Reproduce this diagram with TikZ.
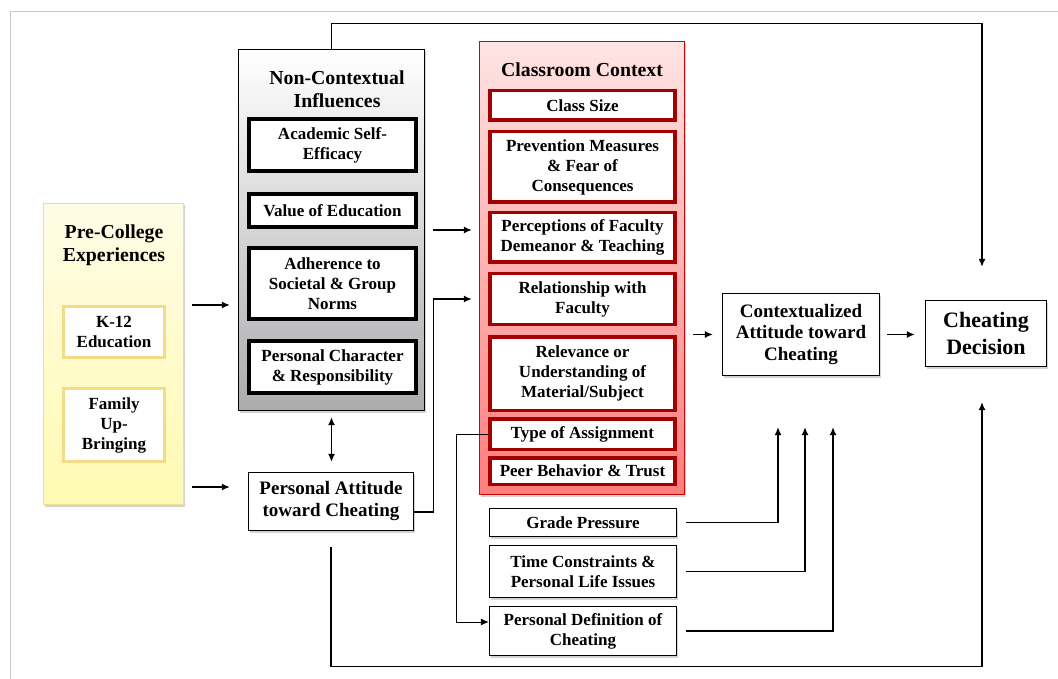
\documentclass[tikz,border=0pt]{standalone}
\usepackage{fontspec}
\setmainfont{Liberation Serif}
\usetikzlibrary{arrows.meta,calc,shadows}
\definecolor{framegray}{RGB}{200,200,200}
\definecolor{preborder}{RGB}{238,222,150}
\definecolor{pretop}{RGB}{255,252,230}
\definecolor{prebot}{RGB}{255,250,178}
\definecolor{kborder}{RGB}{243,220,135}
\definecolor{ncbot}{RGB}{172,172,175}
\definecolor{ccborder}{RGB}{195,10,10}
\definecolor{cctop}{RGB}{255,228,228}
\definecolor{ccbot}{RGB}{255,125,125}
\definecolor{innerred}{RGB}{165,0,0}
\newcommand\fsmall{\fontsize{17}{20}\selectfont\bfseries}
\newcommand\fbig{\fontsize{19.8}{23}\selectfont\bfseries}
\newcommand\fhuge{\fontsize{22}{27}\selectfont\bfseries}
\tikzset{
  shad/.style={drop shadow={opacity=0.35, shadow xshift=1.5pt, shadow yshift=-2pt}},
  conn/.style={line width=1.3pt, -{Latex[length=8pt,width=7pt]}},
  dconn/.style={line width=1.3pt, {Latex[length=8pt,width=7pt]}-{Latex[length=8pt,width=7pt]}},
  plainbox/.style={draw, line width=1.3pt, fill=white, inner sep=0pt, align=center, font=\fsmall, shad},
  ncinner/.style={draw, line width=3.5pt, fill=white, inner sep=0pt, align=center, font=\fsmall, shad},
  ccinner/.style={draw=innerred, line width=3.5pt, fill=white, inner sep=0pt, align=center, font=\fsmall},
  preinner/.style={draw=kborder, line width=3pt, fill=white, inner sep=0pt, align=center, font=\fsmall},
  titletext/.style={align=center, font=\fbig, inner sep=0pt}
}
\begin{document}
\begin{tikzpicture}[x=1pt,y=-1pt]
\useasboundingbox (0,0) rectangle (1058,679);
% frame
\draw[framegray, line width=1pt] (10,679) -- (10,12) -- (1058,12);

% Pre-College
\node[draw=preborder, line width=1.2pt, top color=pretop, bottom color=prebot, minimum width=140pt, minimum height=301pt, inner sep=0pt, shad] (pre) at (113.5,354) {};
\node[titletext] (pret) at (114,245) {Pre-College\\Experiences};
\node[preinner, minimum width=101pt, minimum height=51pt] (k12) at (114,332) {K-12\\Education};
\node[preinner, minimum width=101pt, minimum height=73pt] (fam) at (114,425) {Family\\Up-\\Bringing};

% Non-Contextual
\node[draw, line width=1.3pt, top color=white, bottom color=ncbot, minimum width=186pt, minimum height=361pt, inner sep=0pt, shad] (nc) at (331.5,230) {};
\node[titletext] (nct) at (337,89) {Non-Contextual\\Influences};
\node[ncinner, minimum width=167pt, minimum height=52pt] (ase) at (332.5,145) {Academic Self-\\Efficacy};
\node[ncinner, minimum width=167pt, minimum height=33pt] (voe) at (332.5,210.5) {Value of Education};
\node[ncinner, minimum width=167pt, minimum height=71pt] (adh) at (332.5,283.5) {Adherence to\\Societal \& Group\\Norms};
\node[ncinner, minimum width=167pt, minimum height=52pt] (pcr) at (332.5,367) {Personal Character\\\& Responsibility};

% Personal attitude
\node[draw, line width=1.3pt, fill=white, minimum width=165pt, minimum height=58pt, inner sep=0pt, align=center, font=\fontsize{19}{22}\selectfont\bfseries, shad] (pa) at (331,501.5) {Personal Attitude\\toward Cheating};

% Classroom Context
\node[draw=ccborder, line width=1.3pt, top color=cctop, bottom color=ccbot, minimum width=205pt, minimum height=453pt, inner sep=0pt, shad] (cc) at (582,268) {};
\node[titletext] (cct) at (582,70) {Classroom Context};
\node[ccinner, minimum width=185pt, minimum height=29.5pt] (cs) at (582.5,105.5) {Class Size};
\node[ccinner, minimum width=185pt, minimum height=70.5pt] (pm) at (582.5,167) {Prevention Measures\\\& Fear of\\Consequences};
\node[ccinner, minimum width=185pt, minimum height=49.5pt] (pf) at (582.5,237.5) {Perceptions of Faculty\\Demeanor \& Teaching};
\node[ccinner, minimum width=185pt, minimum height=50.5pt] (rf) at (582.5,299) {Relationship with\\Faculty};
\node[ccinner, minimum width=185pt, minimum height=73.5pt] (rel) at (582.5,373.5) {Relevance or\\Understanding of\\Material/Subject};
\node[ccinner, minimum width=185pt, minimum height=30.5pt] (toa) at (582.5,434) {Type of Assignment};
\node[ccinner, minimum width=185pt, minimum height=26.5pt] (peer) at (582.5,471) {Peer Behavior \& Trust};

% Other personal factors
\node[plainbox, minimum width=187pt, minimum height=28pt] (gp) at (583,522.5) {Grade Pressure};
\node[plainbox, minimum width=187pt, minimum height=52pt] (tc) at (583,571.5) {Time Constraints \&\\Personal Life Issues};
\node[plainbox, minimum width=187pt, minimum height=49pt] (pd) at (583,631) {Personal Definition of\\Cheating};

% Outcomes
\node[draw, line width=1.3pt, fill=white, minimum width=157pt, minimum height=82pt, inner sep=0pt, align=center, font=\fontsize{19}{21.5}\selectfont\bfseries, shad] (cat) at (801,334.5) {Contextualized\\Attitude toward\\Cheating};
\node[draw, line width=1.3pt, fill=white, minimum width=121pt, minimum height=66pt, inner sep=0pt, align=center, font=\fhuge, shad] (cd) at (986,333.5) {Cheating\\Decision};

% Connectors
\draw[conn, shorten <=8pt, shorten >=8pt] (pre.east |- k12.north) -- (nc.west |- k12.north);
\coordinate (pain) at ([yshift=14.5pt]pa.west);
\draw[conn, shorten <=8pt, shorten >=18pt] (pre.east |- pain) -- (pain);
\draw[conn, shorten <=8pt, shorten >=7pt] (nc.east) -- (cc.west |- nc.east);
\draw[dconn, shorten <=6pt, shorten >=10pt] (nc.south) -- (nc.south |- pa.north);
\coordinate (paout) at ([yshift=-10.5pt]pa.east);
\coordinate (j1) at ($(nc.east |- rf)+(8,0)$);
\draw[conn, shorten >=7pt] (paout) -| (j1) -- (cc.west |- rf);
\coordinate (pdin) at ([yshift=9pt]pd.west);
\draw[conn, line width=1pt] (toa.west) -- ++(-32,0) |- (pdin);
\draw[conn, shorten <=9pt, shorten >=51pt] (gp.east) -| ([xshift=-23pt]cat.south);
\draw[conn, shorten <=9pt, shorten >=51pt] (tc.east) -| ([xshift=4pt]cat.south);
\draw[conn, shorten <=9pt, shorten >=51pt] (pd.east) -| ([xshift=32pt]cat.south);
\draw[conn, shorten <=8pt, shorten >=9pt] (cc.east |- cat.west) -- (cat.west);
\draw[conn, shorten <=7pt, shorten >=10pt] (cat.east) -- (cd.west |- cat.east);
\draw[conn, shorten >=33pt] (nc.north) -- ++(0,-25) -| ([xshift=-4pt]cd.north);
\draw[conn, shorten <=16pt, shorten >=35pt] (pa.south) -- ++(0,135) -| ([xshift=-4pt]cd.south);
\end{tikzpicture}
\end{document}
